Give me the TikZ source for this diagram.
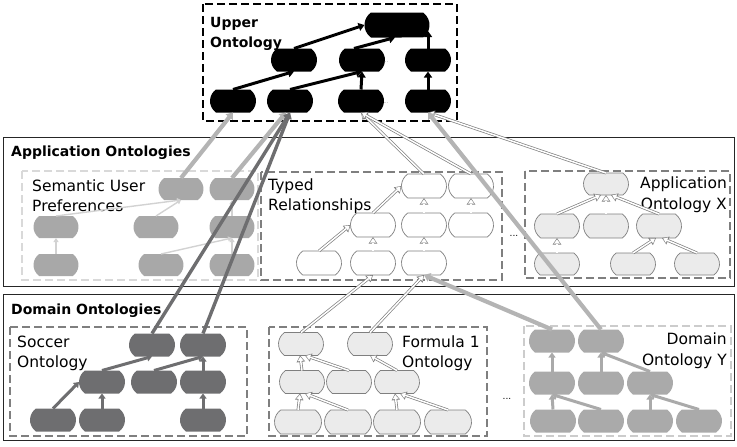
\documentclass[tikz,border=0pt]{standalone}
\usepackage{fontspec}
\setmainfont{DejaVu Sans}
\usetikzlibrary{arrows.meta,shapes.misc}

\definecolor{supfill}{HTML}{A8A8A8}
\definecolor{supedge}{HTML}{D2D2D2}
\definecolor{supbox}{HTML}{D9D9D9}
\definecolor{midgray}{HTML}{7F7F7F}
\definecolor{palefill}{HTML}{EBEBEB}
\definecolor{socfill}{HTML}{6E6E70}
\definecolor{yfill}{HTML}{AAAAAA}
\definecolor{ybox}{HTML}{CCCCCC}
\definecolor{lightlink}{HTML}{B4B4B4}

\begin{document}
\begin{tikzpicture}[x=1pt,y=-1pt,
  ont/.style={rounded rectangle, rounded rectangle arc length=110,
    minimum width=46pt, minimum height=23pt, inner sep=0pt, outer sep=0pt},
  blk/.style={ont, fill=black},
  supn/.style={ont, fill=supfill, minimum width=45pt, minimum height=22pt},
  typn/.style={ont, fill=white, draw=midgray, line width=0.7pt, minimum width=45pt, minimum height=24pt},
  paln/.style={ont, fill=palefill, draw=midgray, line width=0.7pt, minimum width=45pt},
  socn/.style={ont, fill=socfill},
  yn/.style={ont, fill=yfill},
  blkarr/.style={line width=3pt, draw=black, -{Triangle[length=6pt,width=8pt]}},
  suparr/.style={line width=1.4pt, draw=supedge, -{Triangle[length=4pt,width=5pt]}},
  socarr/.style={line width=3pt, draw=socfill, -{Triangle[length=5pt,width=7pt]}},
  yarr/.style={line width=3pt, draw=yfill, -{Triangle[length=5pt,width=7pt]}},
  % hollow connector: grey outline, white core, hollow head
  hol/.style={draw=white, line width=1.5pt, shorten >=1.3pt,
    -{Triangle[length=4.2pt,width=6pt,line width=0pt]},
    preaction={draw=midgray, line width=2.9pt, shorten >=0pt,
      -{Triangle[length=6.5pt,width=8.6pt,line width=0pt]}}},
  lightlnk/.style={line width=4.2pt, draw=lightlink, -{Triangle[length=6pt,width=9pt]}},
  darklnk/.style={line width=3.4pt, draw=socfill, -{Triangle[length=6pt,width=8pt]}},
  outerbox/.style={draw=black!85, line width=0.8pt},
  dbox/.style={dashed, dash pattern=on 8pt off 4pt, line width=1.8pt},
  boldlbl/.style={font=\fontsize{14}{20}\selectfont\bfseries, anchor=base west, inner sep=0pt},
  lbl/.style={font=\fontsize{15.5}{20}\selectfont, inner sep=0pt, anchor=base west, align=left},
  rlbl/.style={font=\fontsize{15.5}{21}\selectfont, inner sep=0pt, anchor=base east, align=right},
  dots/.style={font=\fontsize{9}{9}\selectfont, inner sep=0pt}
]
\useasboundingbox (0,0) rectangle (737,447);

% ---------- frames ----------
\draw[outerbox] (3,137) rectangle (734,286);
\draw[outerbox] (3,294) rectangle (734,440);
\draw[dbox, draw=black] (203,4) rectangle (457,121);
\draw[dbox, draw=supbox] (22,171) rectangle (258,280);
\draw[dbox, draw=midgray] (261,172) rectangle (502,280);
\draw[dbox, draw=midgray] (525,171) rectangle (730,278);
\draw[dbox, draw=midgray] (10,327) rectangle (247,436);
\draw[dbox, draw=midgray] (269,327) rectangle (487,436);
\draw[dbox, draw=ybox] (524,326) rectangle (731,436);

% ---------- labels (base anchor sits on the last line) ----------
\node[boldlbl, align=left] (lupper) at (210,47) {Upper\\Ontology};
\node[boldlbl] (lapp) at (11,156) {Application Ontologies};
\node[boldlbl] (ldom) at (11,314) {Domain Ontologies};
\node[lbl] (lsup) at (32,211) {Semantic User\\Preferences};
\node[lbl] (ltyp) at (268,210) {Typed\\Relationships};
\node[rlbl] (lapx) at (727,209) {Application\\Ontology X};
\node[lbl] (lsoc) at (17,367) {Soccer\\Ontology};
\node[lbl] (lf1) at (402,367) {Formula 1\\Ontology};
\node[rlbl] (ldy) at (727,365) {Domain\\Ontology Y};

% ---------- upper ontology ----------
\node[blk, minimum width=65pt, minimum height=25pt] (u0) at (397,25) {};
\node[blk] (u21) at (294,60) {};
\node[blk] (u22) at (362,60) {};
\node[blk] (u23) at (428,60) {};
\node[blk] (u31) at (233,101) {};
\node[blk] (u32) at (290,101) {};
\node[blk] (u33) at (361,101) {};
\node[blk] (u34) at (428,101) {};
\coordinate (u0r) at (428,31);
\node[dots, text=gray, font=\fontsize{5}{5}\selectfont] (ud1) at (386,62) {...};
\node[dots, text=gray, font=\fontsize{5}{5}\selectfont] (ud2) at (386,103) {...};

\draw[blkarr] (u31.north) -- (u21.south);
\draw[blkarr] (u21.north) -- (u0.west);
\draw[blkarr] (u32.north) -- (u22.south);
\draw[blkarr] ([xshift=-8pt]u22.north) -- ([xshift=-2pt]u0.south);
\draw[blkarr] (u33.north) -- (u22.south);
\draw[blkarr] (u34.north) -- (u23.south);
\draw[blkarr] (u23.north) -- (u0r);

% ---------- semantic user preferences ----------
\node[supn] (s11) at (181,189) {};
\node[supn] (s12) at (232,189) {};
\node[supn] (s21) at (56,227) {};
\node[supn] (s22) at (156,227) {};
\node[supn] (s23) at (232,227) {};
\node[supn] (s31) at (56,265) {};
\node[supn] (s32) at (161,265) {};
\node[supn] (s33) at (232,265) {};
\draw[suparr] (s21.north) -- (s11.south);
\draw[suparr] (s22.north) -- (s11.south);
\draw[suparr] (s31.north) -- (s21.south);
\draw[suparr] (s32.north) -- (s23.south);
\draw[suparr] (s23.north) -- (s12.south);
\draw[suparr] (s33.north) -- (s23.south);

% ---------- typed relationships ----------
\node[typn] (t11) at (424,186) {};
\node[typn] (t12) at (471,186) {};
\node[typn] (t21) at (373,225) {};
\node[typn] (t22) at (424,225) {};
\node[typn] (t23) at (471,225) {};
\node[typn] (t31) at (319,263) {};
\node[typn] (t32) at (373,263) {};
\node[typn] (t33) at (424,263) {};
\draw[hol] (t31.north) -- (t21.west);
\draw[hol] (t21.north) -- (t11.west);
\draw[hol] (t32.north) -- (t21.south);
\draw[hol] (t33.north) -- (t22.south);
\draw[hol] (t22.north) -- (t11.south);
\draw[hol] (t23.north) -- (t12.south);

% ---------- application ontology X ----------
\node[paln, minimum height=22pt] (a0) at (606,184) {};
\node[paln, minimum height=24pt] (a21) at (557,226) {};
\node[paln, minimum height=24pt] (a22) at (606,226) {};
\node[paln, minimum height=24pt] (a23) at (659,226) {};
\node[paln, minimum height=22pt] (a31) at (557,264) {};
\node[paln, minimum height=22pt] (a32) at (633,264) {};
\node[paln, minimum height=22pt] (a33) at (697,264) {};
\draw[hol] (a21.north) -- ([xshift=-5pt]a0.south);
\draw[hol] (a22.north) -- (a0.south);
\draw[hol] (a23.north) -- ([xshift=5pt]a0.south);
\draw[hol] (a31.north) -- (a21.south);
\draw[hol] (a32.north) -- ([xshift=-3pt]a23.south);
\draw[hol] (a33.north) -- ([xshift=3pt]a23.south);
\node[dots] (appdots) at (514,236) {...};

% ---------- soccer ontology ----------
\node[socn] (c11) at (152,345) {};
\node[socn] (c12) at (203,345) {};
\node[socn] (c21) at (102,382) {};
\node[socn] (c22) at (154,382) {};
\node[socn] (c23) at (203,382) {};
\node[socn] (c31) at (53,420) {};
\node[socn] (c32) at (102,420) {};
\node[socn] (c33) at (203,420) {};
\draw[socarr] (c31.north) -- (c21.west);
\draw[socarr] (c21.north) -- (c11.south);
\draw[socarr] (c32.north) -- (c21.south);
\draw[socarr] (c22.north) -- (c12.south);
\draw[socarr] (c33.north) -- (c23.south);
\draw[socarr] (c23.north) -- (c12.south);

% ---------- formula 1 ontology ----------
\node[paln] (f11) at (301,344) {};
\node[paln] (f12) at (370,344) {};
\node[paln] (f21) at (302,382) {};
\node[paln] (f22) at (349,382) {};
\node[paln] (f23) at (397,382) {};
\node[paln, minimum width=47pt, minimum height=24pt] (f31) at (298,422) {};
\node[paln, minimum width=47pt, minimum height=24pt] (f32) at (348,422) {};
\node[paln, minimum width=47pt, minimum height=24pt] (f33) at (397,422) {};
\node[paln, minimum width=47pt, minimum height=24pt] (f34) at (448,422) {};
\draw[hol] (f21.north) -- ([xshift=-1pt]f11.south);
\draw[hol] (f22.north) -- ([xshift=4pt]f11.south);
\draw[hol] (f23.north) -- (f12.south);
\draw[hol] (f31.north) -- ([xshift=-2pt]f21.south);
\draw[hol] (f32.north) -- ([xshift=3pt]f21.south);
\draw[hol] (f33.north) -- ([xshift=-2pt]f23.south);
\draw[hol] (f34.north) -- ([xshift=3pt]f23.south);
\node[dots] (domdots) at (507,399) {...};

% ---------- domain ontology Y ----------
\node[yn] (y11) at (552,341) {};
\node[yn] (y12) at (601,341) {};
\node[yn] (y21) at (552,383) {};
\node[yn] (y22) at (601,383) {};
\node[yn] (y23) at (650,383) {};
\node[yn] (y31) at (553,421) {};
\node[yn] (y32) at (601,421) {};
\node[yn] (y33) at (650,421) {};
\node[yn] (y34) at (699,421) {};
\draw[yarr] (y21.north) -- (y11.south);
\draw[yarr] (y22.north) -- (y12.south);
\draw[yarr] (y23.north) -- (y12.south);
\draw[yarr] (y31.north) -- (y21.south);
\draw[yarr] (y32.north) -- (y21.south);
\draw[yarr] (y33.north) -- (y23.south);
\draw[yarr] (y34.north) -- (y23.south);

% ---------- links between levels ----------
\draw[lightlnk] (s11.north) -- (u31.south);
\draw[lightlnk] (s12.north) -- ([xshift=-4pt]u32.south);
\draw[darklnk] (c11.north) -- (u32.south);
\draw[darklnk] (c12.north) -- (u32.south);
\draw[hol] (t11.north) -- (u33.south);
\draw[hol] (t12.north) -- (u33.south);
\draw[hol] (a0.north) -- (u34.south);
\draw[lightlnk] (y12.north) -- (u34.south);
\draw[lightlnk] (y11.north) -- (t33.south);
\draw[hol] (f11.north) -- (t32.south);
\draw[hol] (f12.north) -- (t33.south);
\end{tikzpicture}
\end{document}
